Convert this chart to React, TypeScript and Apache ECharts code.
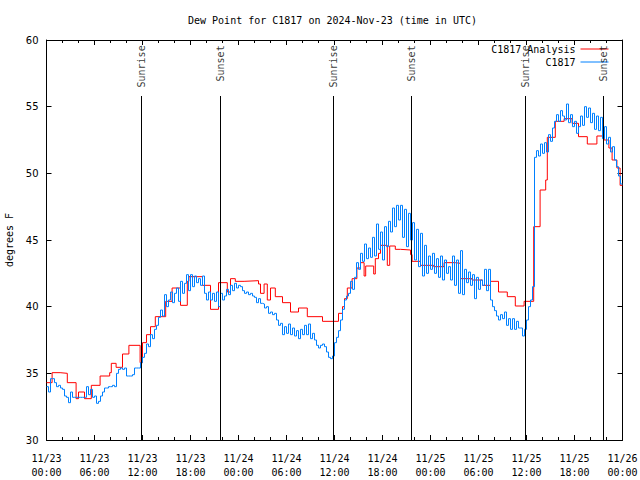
import React, { useEffect, useRef } from "react";
import * as echarts from "echarts";

// Sun events (hours since 11/23 00:00 UTC)
const sunNames = ["Sunrise", "Sunset", "Sunrise", "Sunset", "Sunrise", "Sunset"];
const sunHours = [11.875, 21.75, 35.875, 45.625, 59.875, 69.625];

// X tick labels (every 6 hours)
const xTickDays = ["11/23", "11/23", "11/23", "11/23", "11/24", "11/24", "11/24", "11/24", "11/25", "11/25", "11/25", "11/25", "11/26"];
const xTickTimes = ["00:00", "06:00", "12:00", "18:00", "00:00", "06:00", "12:00", "18:00", "00:00", "06:00", "12:00", "18:00", "00:00"];

// C1817 Analysis (step changes): hour, value
const redHours = [0, 0.7, 1.7, 2.6, 3.7, 4.0, 4.75, 5.6, 6.7, 7.9, 8.1, 8.7, 9.5, 10.3, 11.7, 12.0, 12.5, 13.0, 13.6, 14.9, 15.7, 16.75, 17.6, 17.8, 19.5, 20.5, 21.5, 22.6, 23.0, 23.6, 24.7, 26.5, 26.75, 27.2, 27.6, 28.0, 28.6, 29.5, 30.5, 31.5, 32.6, 34.5, 36.5, 37.0, 37.25, 37.6, 38.2, 38.8, 39.25, 39.7, 39.9, 40.9, 41.1, 41.5, 41.75, 42.6, 42.9, 43.6, 44.25, 45.5, 45.7, 46.75, 48.4, 49.7, 51.1, 51.75, 53.2, 54.5, 55.5, 56.5, 57.6, 58.6, 59.7, 60.9, 61.7, 62.4, 62.6, 63.6, 64.7, 65.7, 66.5, 67.6, 68.8, 69.7, 70.3, 70.7, 71.3, 71.7, 72];
const redValues = [34.3, 35.05, 35.0, 34.3, 33.1, 33.6, 33.1, 34.1, 34.8, 35.05, 35.75, 35.45, 36.45, 37.1, 35.8, 37.3, 37.9, 38.5, 39.25, 40.4, 41.4, 40.1, 41.9, 42.25, 41.6, 39.8, 41.8, 41.1, 42.1, 41.9, 41.95, 41.7, 41.0, 41.7, 40.5, 41.4, 40.75, 40.3, 39.6, 39.9, 39.25, 38.9, 39.5, 40.0, 40.6, 41.4, 42.1, 42.9, 43.3, 42.3, 43.05, 42.45, 43.6, 44.0, 44.6, 43.1, 44.55, 44.3, 44.25, 43.9, 43.4, 43.1, 43.0, 43.3, 43.25, 42.1, 42.0, 41.6, 41.9, 41.1, 40.75, 40.05, 40.4, 46.0, 48.75, 49.5, 52.7, 53.9, 54.1, 53.75, 52.75, 52.2, 52.8, 52.5, 51.9, 51.0, 50.4, 49.1, 49.1];

// C1817 observations, every 15 minutes from 11/23 00:00
const blueStartHour = 0;
const blueStepHours = 0.25;
const blueValues = [
  34.0, 33.6, 34.6, 34.6, 34.3, 34.0, 34.1, 33.9, 33.8, 33.3,
  33.2, 32.8, 33.6, 33.2, 33.2, 33.2, 33.2, 33.2, 33.2, 33.2,
  34.0, 33.4, 33.8, 33.2, 33.3, 32.75, 32.9, 33.3, 33.6, 33.9,
  33.9, 34.0, 34.0, 34.1, 34.0, 35.0, 35.3, 35.4, 35.3, 35.4,
  34.8, 34.8, 34.8, 34.9, 35.4, 35.4, 35.4, 35.8,
  36.2, 36.5, 37.2, 37.0, 37.9, 37.6, 38.3, 38.6, 39.2, 39.75,
  39.3, 40.9, 40.0, 40.5, 41.1, 40.3, 41.0, 41.4, 40.4, 41.9,
  41.0, 41.75, 42.4, 41.2, 42.4, 41.5, 42.3, 41.8, 42.1, 41.6,
  42.3, 41.0, 40.5, 41.1, 40.5, 41.0, 40.4, 41.1, 40.0, 41.0,
  40.5, 40.8, 41.3, 40.9, 41.6, 41.2, 41.75, 41.4, 41.6,
  41.5, 41.2, 41.0, 41.1, 40.9, 41.0, 40.8, 40.7, 40.3, 40.6,
  40.25, 40.2, 39.9, 40.0, 39.5, 39.6, 39.4, 39.5, 39.0, 38.6,
  38.75, 37.9, 38.5, 38.0, 38.7, 37.9, 38.4, 37.8, 38.2, 37.6,
  38.3, 37.9, 38.6, 37.9, 38.7, 37.6, 38.0, 37.5, 37.1, 36.9,
  37.1, 37.2, 37.0, 36.6, 36.2, 36.1, 36.3,
  37.3, 37.7, 38.2, 39.0, 39.8, 40.5, 40.8, 41.0, 41.9, 41.3,
  42.2, 43.3, 42.8, 44.0, 43.4, 44.7, 43.6, 44.4, 43.7, 45.2,
  43.8, 46.2, 44.3, 45.6, 43.5, 46.0, 44.5, 46.4, 45.6, 47.4,
  46.0, 47.6, 46.5, 47.6, 45.2, 47.3, 44.5, 47.0, 45.0, 46.3,
  43.5, 45.8, 43.0, 45.5, 42.3, 44.6, 42.5, 43.8,
  42.8, 44.0, 42.5, 43.6, 42.2, 43.8, 42.0, 43.5, 42.5, 43.0,
  42.0, 43.8, 41.6, 43.5, 41.0, 44.2, 40.9, 42.8, 41.8, 42.6,
  41.6, 42.4, 40.6, 42.2, 41.3, 42.0, 41.6, 42.8, 41.2, 42.8,
  40.5, 40.0, 39.7, 39.3, 39.0, 39.4, 39.1, 39.6, 38.6, 39.1,
  38.3, 39.1, 38.3, 38.9, 38.4, 38.4, 37.8, 38.3,
  39.0, 40.0, 40.5, 41.5, 51.2, 51.7, 51.3, 52.2, 51.5, 52.3,
  51.6, 52.9, 52.4, 53.4, 53.9, 54.4, 53.9, 54.7, 54.3, 54.0,
  55.2, 53.8, 54.4, 53.5, 53.9, 53.0, 53.5, 54.3, 53.6, 55.0,
  54.2, 54.9, 53.8, 54.5, 53.3, 54.3, 53.2, 54.2, 52.6, 53.5,
  52.2, 52.7, 51.6, 52.0, 51.0, 50.5, 49.8, 49.2,
];

const MONO = "DejaVu Sans Mono";

export default function App() {
  const ref = useRef<HTMLDivElement>(null);
  useEffect(() => {
    if (!ref.current) return;
    const chart = echarts.init(ref.current, null, { renderer: "svg" });
    const redData = redHours.map((h, i) => [h, redValues[i]]);
    const blueData = blueValues.map((v, i) => [blueStartHour + i * blueStepHours, v]);
    blueData.push([blueStartHour + blueValues.length * blueStepHours, blueValues[blueValues.length - 1]]);

    const xCommon = {
      type: "value" as const,
      min: 0,
      max: 72,
      interval: 6,
      splitLine: { show: false },
      axisLine: { show: true, onZero: false, lineStyle: { color: "#000", width: 1 } },
      axisTick: { show: true, inside: true, length: 5, lineStyle: { color: "#000" } },
      minorTick: { show: true, splitNumber: 3, length: 3, lineStyle: { color: "#000" } },
    };
    const yCommon = {
      type: "value" as const,
      min: 30,
      max: 60,
      interval: 5,
      splitLine: { show: false },
      axisLine: { show: true, onZero: false, lineStyle: { color: "#000", width: 1 } },
      axisTick: { show: true, inside: true, length: 5, lineStyle: { color: "#000" } },
    };

    chart.setOption({
      animation: false,
      backgroundColor: "#fff",
      title: {
        text: "Dew Point for C1817 on 2024-Nov-23 (time in UTC)",
        left: 183,
        top: 10,
        textStyle: { fontFamily: MONO, fontSize: 10, fontWeight: "normal", color: "#000" },
      },
      legend: {
        data: ["C1817 Analysis", "C1817"],
        orient: "vertical",
        align: "right",
        right: 31,
        top: 44,
        itemWidth: 28,
        itemHeight: 10,
        itemGap: 3,
        padding: 0,
        itemStyle: { opacity: 0 },
        lineStyle: { width: 1 },
        textStyle: { fontFamily: MONO, fontSize: 10, color: "#000" },
      },
      grid: { left: 46.5, right: 17.5, top: 40, bottom: 40, containLabel: false, outerBoundsMode: "none" },
      xAxis: [
        {
          ...xCommon,
          position: "bottom",
          axisLabel: {
            show: true,
            margin: 11,
            showMinLabel: true,
            showMaxLabel: true,
            fontFamily: MONO,
            fontSize: 10,
            lineHeight: 14,
            color: "#000",
            formatter: (v: number) => {
              const k = Math.round(v / 6);
              return xTickDays[k] + "\n" + xTickTimes[k];
            },
          },
        },
        { ...xCommon, position: "top", axisLabel: { show: false } },
      ],
      yAxis: [
        {
          ...yCommon,
          position: "left",
          name: "degrees F",
          nameLocation: "middle",
          nameGap: 30,
          nameTextStyle: { fontFamily: MONO, fontSize: 10, color: "#000" },
          axisLabel: { show: true, margin: 8, fontFamily: "DejaVu Sans", fontSize: 10, color: "#000" },
        },
        { ...yCommon, position: "right", axisLabel: { show: false } },
      ],
      series: [
        {
          name: "C1817 Analysis",
          type: "line",
          step: "end",
          data: redData,
          symbol: "none",
          showSymbol: false,
          color: "#ff0000",
          lineStyle: { color: "#ff0000", width: 1, cap: "butt", join: "miter" },
          z: 3,
        },
        {
          name: "C1817",
          type: "line",
          step: "end",
          data: blueData,
          symbol: "none",
          showSymbol: false,
          color: "#0080ff",
          lineStyle: { color: "#0080ff", width: 1, cap: "butt", join: "miter" },
          z: 4,
        },
        {
          name: "sunlines",
          type: "line",
          data: [],
          symbol: "none",
          z: 5,
          markLine: {
            silent: true,
            symbol: ["none", "none"],
            label: { show: false },
            lineStyle: { color: "#000", width: 1, type: "solid" },
            emphasis: { disabled: true },
            data: sunHours.map((h) => [{ coord: [h, 30] }, { coord: [h, 55.8] }]),
          },
        },
        {
          name: "sunlabels",
          type: "scatter",
          symbolSize: 0,
          silent: true,
          z: 6,
          data: sunHours.map((h, i) => ({ value: [h, 59.6], name: sunNames[i] })),
          label: {
            show: true,
            position: [0, 0],
            rotate: 90,
            align: "right",
            verticalAlign: "middle",
            formatter: (p: any) => p.name,
            fontFamily: MONO,
            fontSize: 10,
            color: "#000",
          },
        },
      ],
    });
    return () => chart.dispose();
  }, []);
  return (
    <div
      ref={ref}
      style={{ position: "fixed", left: 0, top: 0, width: 640, height: 480, background: "#fff" }}
    />
  );
}
